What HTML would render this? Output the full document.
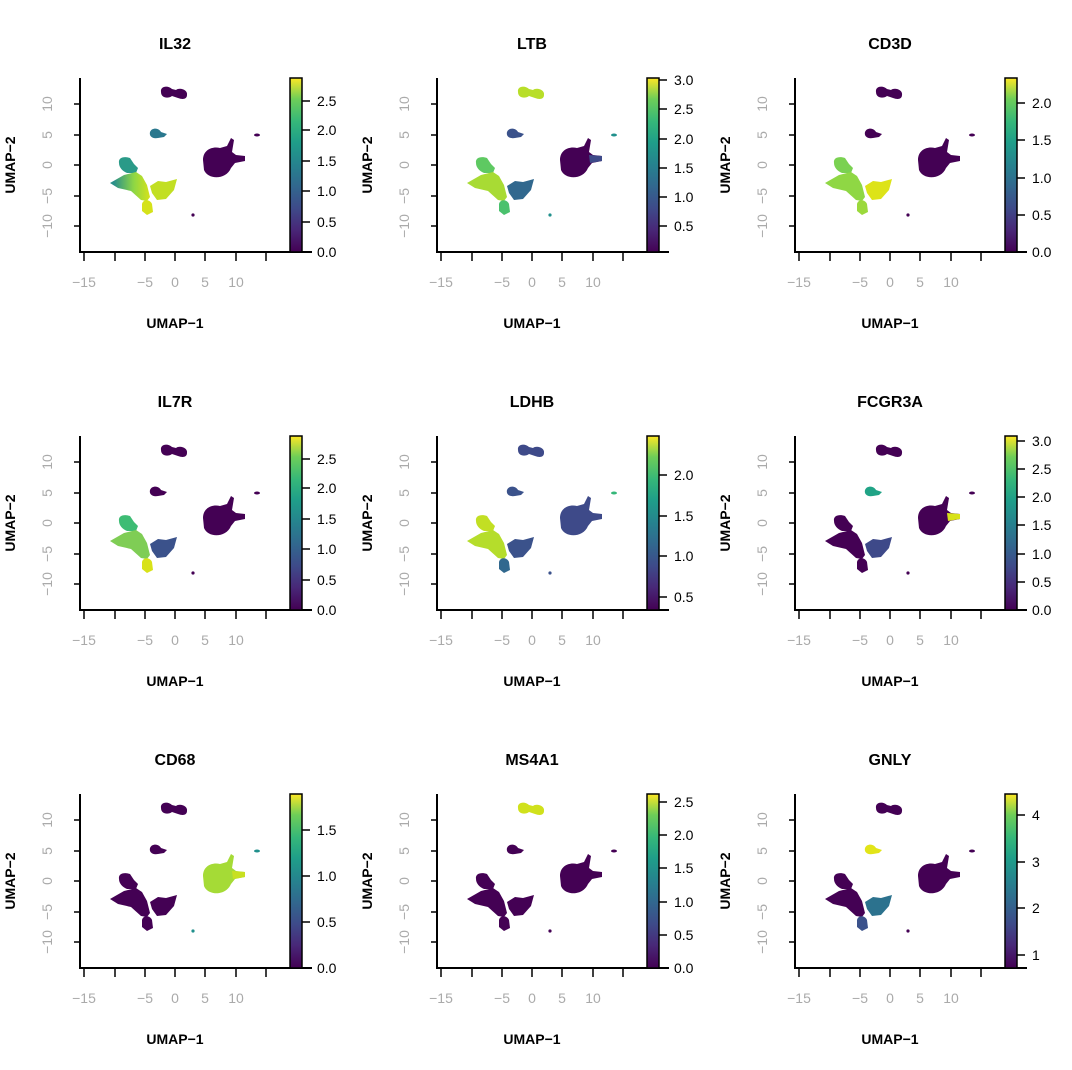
<!DOCTYPE html>
<html><head><meta charset="utf-8"><style>body{margin:0;background:#fff}svg{display:block}</style></head><body>
<svg width="1072" height="1070" viewBox="0 0 1072 1070" xmlns="http://www.w3.org/2000/svg" font-family="Liberation Sans, Arial, sans-serif">
<defs>
<linearGradient id="vir" x1="0" y1="1" x2="0" y2="0">
<stop offset="0" stop-color="#440154"/><stop offset="0.13" stop-color="#482878"/><stop offset="0.25" stop-color="#3e4a89"/><stop offset="0.38" stop-color="#31688e"/><stop offset="0.5" stop-color="#26828e"/><stop offset="0.63" stop-color="#1f9e89"/><stop offset="0.75" stop-color="#35b779"/><stop offset="0.88" stop-color="#6ece58"/><stop offset="1" stop-color="#fde725"/>
</linearGradient>
<linearGradient id="g32" x1="0" y1="0" x2="1" y2="0"><stop offset="0.1" stop-color="#2a8f8a"/><stop offset="0.6" stop-color="#8fd744"/><stop offset="1" stop-color="#d5e21a"/></linearGradient>
<path id="cB" d="M161,92 C160,86 168,85 172,89 L176,90 C180,87 188,90 187,95 C187,99 183,100 178,98 L172,96 C168,99 161,98 161,92Z"/>
<path id="cNK" d="M150,132 C152,127 159,128 161,132 L167,134 L164,137 L158,138 C152,139 149,136 150,132Z"/>
<path id="cM" d="M203,160 C203,150 212,146 220,148 L227,146 L231,138 L234,140 L232,152 L236,155 L245,156 L245,161 L235,163 L231,168 C226,180 208,180 204,170 Z"/>
<path id="cMa" d="M232,155 L245,156 L245,161 L233,163 Z"/>
<ellipse id="cD" cx="257" cy="135" rx="3" ry="1.5"/>
<path id="cTu" d="M119,163 C118,157 125,156 130,158 L134,164 L138,168 L136,173 L127,173 C122,171 119,167 119,163Z"/>
<path id="cTl" d="M110,183 L124,175 L136,172 L142,176 L147,185 L150,197 L147,201 L141,200 L131,191 L118,188 Z"/>
<path id="cTr" d="M150,186 L158,181 L166,182 L177,179 L174,190 L166,199 L157,200 L152,193 Z"/>
<path id="cTb" d="M142,204 C143,199 150,199 152,204 L153,212 L147,215 L142,211 Z"/>
<circle id="cX" cx="193" cy="215" r="1.6"/>
<g id="axes">
<path d="M80,78 V252 H312" fill="none" stroke="#000" stroke-width="2"/>
<g stroke="#000" stroke-width="1.5">
<path d="M84,252v9M115,252v9M145,252v9M175,252v9M205,252v9M236,252v9M266,252v9"/>
<path d="M80,104h-6M80,135h-6M80,165h-6M80,196h-6M80,226h-6"/>
</g>
<g fill="#aaa" font-size="14" text-anchor="middle">
<text x="84" y="287">−15</text><text x="145" y="287">−5</text><text x="175" y="287">0</text><text x="205" y="287">5</text><text x="236" y="287">10</text>
<text transform="translate(52,104) rotate(-90)">10</text><text transform="translate(52,135) rotate(-90)">5</text><text transform="translate(52,165) rotate(-90)">0</text><text transform="translate(52,196) rotate(-90)">−5</text><text transform="translate(52,226) rotate(-90)">−10</text>
</g>
<text x="175" y="328" font-size="14" font-weight="bold" text-anchor="middle">UMAP−1</text>
<text transform="translate(15,165) rotate(-90)" font-size="14" font-weight="bold" text-anchor="middle">UMAP−2</text>
<rect x="290" y="78" width="12" height="174" fill="url(#vir)" stroke="#000" stroke-width="1.5"/>
</g>
</defs>
<style>.cb{font-size:14px}.tt{font-size:16px;font-weight:bold}</style>

<g transform="translate(0,0)">
<use href="#axes"/><text x="175" y="49" class="tt" text-anchor="middle">IL32</text>
<use href="#cB" fill="#440154"/><use href="#cNK" fill="#2a788e"/><use href="#cM" fill="#440154"/><use href="#cD" fill="#440154"/><use href="#cTu" fill="#2a9a88"/><use href="#cTl" fill="url(#g32)"/><use href="#cTr" fill="#c2df23"/><use href="#cTb" fill="#d5e21a"/><use href="#cX" fill="#440154"/>
<g class="cb"><path d="M302,252h8M302,222h8M302,191h8M302,161h8M302,130h8M302,101h8" stroke="#000" stroke-width="1.5"/>
<text x="317" y="257">0.0</text><text x="317" y="227">0.5</text><text x="317" y="196">1.0</text><text x="317" y="166">1.5</text><text x="317" y="135">2.0</text><text x="317" y="106">2.5</text></g>
</g>

<g transform="translate(357,0)">
<use href="#axes"/><text x="175" y="49" class="tt" text-anchor="middle">LTB</text>
<use href="#cB" fill="#b8de29"/><use href="#cNK" fill="#3b528b"/><use href="#cM" fill="#440154"/><use href="#cMa" fill="#3e4a89"/><use href="#cD" fill="#21908c"/><use href="#cTu" fill="#5ec962"/><use href="#cTl" fill="#a8db34"/><use href="#cTr" fill="#31688e"/><use href="#cTb" fill="#4ac16d"/><use href="#cX" fill="#21908c"/>
<g class="cb"><path d="M302,226h8M302,197h8M302,168h8M302,139h8M302,109h8M302,80h8" stroke="#000" stroke-width="1.5"/>
<text x="317" y="231">0.5</text><text x="317" y="202">1.0</text><text x="317" y="173">1.5</text><text x="317" y="144">2.0</text><text x="317" y="114">2.5</text><text x="317" y="85">3.0</text></g>
</g>

<g transform="translate(715,0)">
<use href="#axes"/><text x="175" y="49" class="tt" text-anchor="middle">CD3D</text>
<use href="#cB" fill="#440154"/><use href="#cNK" fill="#440154"/><use href="#cM" fill="#440154"/><use href="#cD" fill="#440154"/><use href="#cTu" fill="#7ad151"/><use href="#cTl" fill="#8fd744"/><use href="#cTr" fill="#dde318"/><use href="#cTb" fill="#9bd93c"/><use href="#cX" fill="#440154"/>
<g class="cb"><path d="M302,252h8M302,215h8M302,178h8M302,140h8M302,103h8" stroke="#000" stroke-width="1.5"/>
<text x="317" y="257">0.0</text><text x="317" y="220">0.5</text><text x="317" y="183">1.0</text><text x="317" y="145">1.5</text><text x="317" y="108">2.0</text></g>
</g>

<g transform="translate(0,358)">
<use href="#axes"/><text x="175" y="49" class="tt" text-anchor="middle">IL7R</text>
<use href="#cB" fill="#440154"/><use href="#cNK" fill="#440154"/><use href="#cM" fill="#440154"/><use href="#cD" fill="#440154"/><use href="#cTu" fill="#3dbc74"/><use href="#cTl" fill="#7fcd55"/><use href="#cTr" fill="#3b528b"/><use href="#cTb" fill="#d8e219"/><use href="#cX" fill="#440154"/>
<g class="cb"><path d="M302,252h8M302,222h8M302,191h8M302,161h8M302,130h8M302,101h8" stroke="#000" stroke-width="1.5"/>
<text x="317" y="257">0.0</text><text x="317" y="227">0.5</text><text x="317" y="196">1.0</text><text x="317" y="166">1.5</text><text x="317" y="135">2.0</text><text x="317" y="106">2.5</text></g>
</g>

<g transform="translate(357,358)">
<use href="#axes"/><text x="175" y="49" class="tt" text-anchor="middle">LDHB</text>
<use href="#cB" fill="#3e4a89"/><use href="#cNK" fill="#3b528b"/><use href="#cM" fill="#3e4a89"/><use href="#cD" fill="#35b779"/><use href="#cTu" fill="#c2df23"/><use href="#cTl" fill="#b5dd2b"/><use href="#cTr" fill="#3b528b"/><use href="#cTb" fill="#31688e"/><use href="#cX" fill="#3b528b"/>
<g class="cb"><path d="M302,239h8M302,198h8M302,158h8M302,117h8" stroke="#000" stroke-width="1.5"/>
<text x="317" y="244">0.5</text><text x="317" y="203">1.0</text><text x="317" y="163">1.5</text><text x="317" y="122">2.0</text></g>
</g>

<g transform="translate(715,358)">
<use href="#axes"/><text x="175" y="49" class="tt" text-anchor="middle">FCGR3A</text>
<use href="#cB" fill="#440154"/><use href="#cNK" fill="#20a386"/><use href="#cM" fill="#440154"/><use href="#cMa" fill="#d8e219"/><use href="#cD" fill="#440154"/><use href="#cTu" fill="#440154"/><use href="#cTl" fill="#440154"/><use href="#cTr" fill="#3e4989"/><use href="#cTb" fill="#440154"/><use href="#cX" fill="#440154"/>
<g class="cb"><path d="M302,252h8M302,224h8M302,196h8M302,167h8M302,139h8M302,111h8M302,83h8" stroke="#000" stroke-width="1.5"/>
<text x="317" y="257">0.0</text><text x="317" y="229">0.5</text><text x="317" y="201">1.0</text><text x="317" y="172">1.5</text><text x="317" y="144">2.0</text><text x="317" y="116">2.5</text><text x="317" y="88">3.0</text></g>
</g>

<g transform="translate(0,716)">
<use href="#axes"/><text x="175" y="49" class="tt" text-anchor="middle">CD68</text>
<use href="#cB" fill="#440154"/><use href="#cNK" fill="#440154"/><use href="#cM" fill="#a5db36"/><use href="#cMa" fill="#c8e020"/><use href="#cD" fill="#21908c"/><use href="#cTu" fill="#440154"/><use href="#cTl" fill="#440154"/><use href="#cTr" fill="#440154"/><use href="#cTb" fill="#440154"/><use href="#cX" fill="#21908c"/>
<g class="cb"><path d="M302,252h8M302,206h8M302,160h8M302,114h8" stroke="#000" stroke-width="1.5"/>
<text x="317" y="257">0.0</text><text x="317" y="211">0.5</text><text x="317" y="165">1.0</text><text x="317" y="119">1.5</text></g>
</g>

<g transform="translate(357,716)">
<use href="#axes"/><text x="175" y="49" class="tt" text-anchor="middle">MS4A1</text>
<use href="#cB" fill="#d0e11c"/><use href="#cNK" fill="#440154"/><use href="#cM" fill="#440154"/><use href="#cD" fill="#440154"/><use href="#cTu" fill="#440154"/><use href="#cTl" fill="#440154"/><use href="#cTr" fill="#440154"/><use href="#cTb" fill="#440154"/><use href="#cX" fill="#440154"/>
<g class="cb"><path d="M302,252h8M302,219h8M302,186h8M302,152h8M302,119h8M302,86h8" stroke="#000" stroke-width="1.5"/>
<text x="317" y="257">0.0</text><text x="317" y="224">0.5</text><text x="317" y="191">1.0</text><text x="317" y="157">1.5</text><text x="317" y="124">2.0</text><text x="317" y="91">2.5</text></g>
</g>

<g transform="translate(715,716)">
<use href="#axes"/><text x="175" y="49" class="tt" text-anchor="middle">GNLY</text>
<use href="#cB" fill="#440154"/><use href="#cNK" fill="#e2e418"/><use href="#cM" fill="#440154"/><use href="#cD" fill="#440154"/><use href="#cTu" fill="#440154"/><use href="#cTl" fill="#440154"/><use href="#cTr" fill="#2c728e"/><use href="#cTb" fill="#3b528b"/><use href="#cX" fill="#440154"/>
<g class="cb"><path d="M302,239h8M302,192h8M302,146h8M302,99h8" stroke="#000" stroke-width="1.5"/>
<text x="317" y="244">1</text><text x="317" y="197">2</text><text x="317" y="151">3</text><text x="317" y="104">4</text></g>
</g>
</svg>
</body></html>
